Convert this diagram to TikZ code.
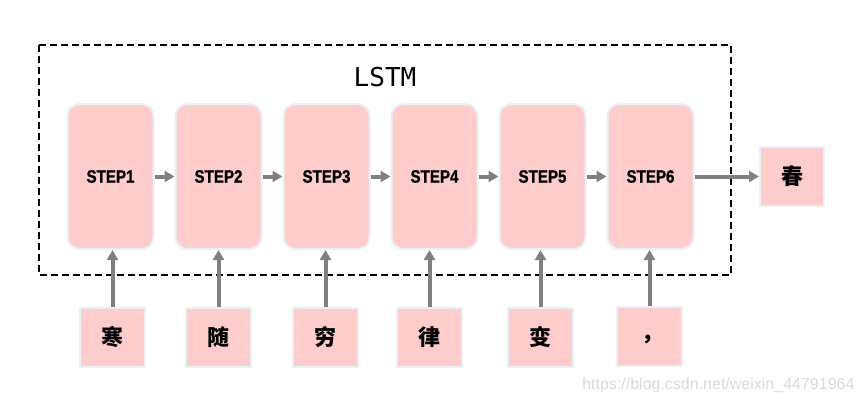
\documentclass[tikz,border=0pt]{standalone}
\usepackage{fontspec}
\usetikzlibrary{arrows.meta}
\setmainfont{Liberation Sans}
\newfontfamily\cjk{Noto Sans CJK SC}
\newfontfamily\stepfont{Liberation Sans}[FakeStretch=0.84,FakeBold=1.2]
\newfontfamily\lstmfont{DejaVu Sans Mono}
\definecolor{cellpink}{RGB}{255,204,204}
\definecolor{cellrim}{RGB}{232,241,244}
\definecolor{arrowgray}{RGB}{128,128,128}
\definecolor{markgray}{RGB}{218,218,218}
\tikzset{
  cell/.style={fill=cellpink, draw=cellrim, line width=2pt, rounded corners=12pt,
    minimum width=86pt, minimum height=145pt, inner sep=0pt,
    font=\stepfont\bfseries\fontsize{18}{18}\selectfont},
  charbox/.style={fill=cellpink, draw=cellrim, line width=2pt,
    minimum width=65pt, minimum height=59pt, inner sep=0pt,
    font=\cjk\bfseries\fontsize{22}{22}\selectfont},
  flow/.style={draw=arrowgray, line width=4pt, -{Triangle[length=10pt,width=11pt]}}
}
\begin{document}
\begin{tikzpicture}[x=1pt,y=-1pt]
  \useasboundingbox (0,0) rectangle (867,405);
  % LSTM frame
  \draw[line width=1.6pt, dash pattern=on 7pt off 4pt] (39,45) rectangle (731,275);
  \node[font=\lstmfont\fontsize{26}{26}\selectfont] (title) at (385,77.5) {LSTM};
  % steps
  \node[cell] (s1) at (110.5,176.5) {STEP1};
  \node[cell] (s2) at (218.5,176.5) {STEP2};
  \node[cell] (s3) at (326.5,176.5) {STEP3};
  \node[cell] (s4) at (434.5,176.5) {STEP4};
  \node[cell] (s5) at (542.5,176.5) {STEP5};
  \node[cell] (s6) at (650.5,176.5) {STEP6};
  \node[charbox, minimum width=64pt] (out) at (792,176.5) {春};
  % inputs
  \node[charbox] (c1) at (112.5,337) {寒};
  \node[charbox] (c2) at (218.5,337) {随};
  \node[charbox] (c3) at (325.5,337) {穷};
  \node[charbox] (c4) at (429.5,337) {律};
  \node[charbox] (c5) at (540.5,337) {变};
  \node[charbox] (c6) at (649.5,336) {\hspace*{6pt}\raisebox{-12pt}{，}};
  % arrows
  \draw[flow] (s1) -- (s2);
  \draw[flow] (s2) -- (s3);
  \draw[flow] (s3) -- (s4);
  \draw[flow] (s4) -- (s5);
  \draw[flow] (s5) -- (s6);
  \draw[flow] (s6) -- (out);
  \foreach \i in {1,...,6}
    \draw[flow] (c\i.north) -- (c\i.north |- s\i.south);
  \node[anchor=east, text=markgray, font=\fontsize{16}{16}\selectfont] (mark) at (858,385) {https://blog.csdn.net/weixin\_44791964};
\end{tikzpicture}
\end{document}
